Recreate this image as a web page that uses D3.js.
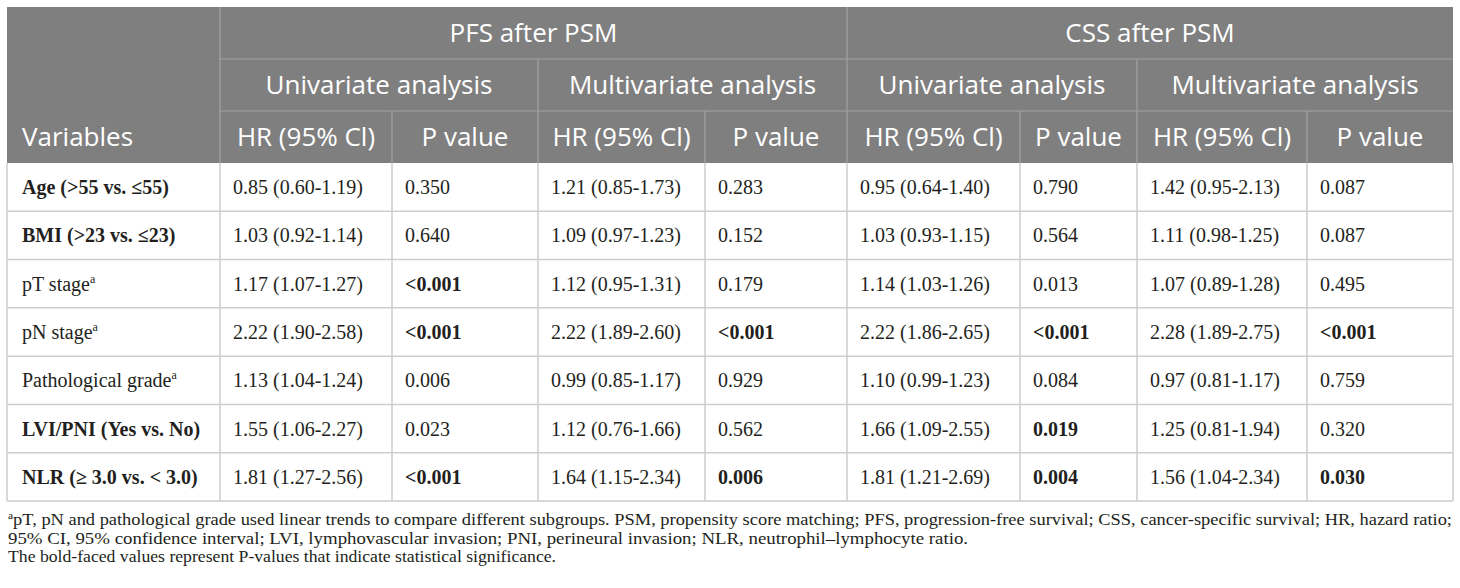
<!DOCTYPE html>
<html>
<head>
<meta charset="utf-8">
<script src="https://cdn.jsdelivr.net/npm/d3@7"></script>
<style>
  html, body { margin: 0; padding: 0; background: #ffffff; }
  svg { display: block; }
</style>
</head>
<body>
<svg id="chart" width="1460" height="588"></svg>
<script>
// ---------- DATA ----------
const variables = ["Age (>55 vs. \u226455)", "BMI (>23 vs. \u226423)", "pT stage", "pN stage", "Pathological grade", "LVI/PNI (Yes vs. No)", "NLR (\u2265 3.0 vs. < 3.0)"];
const variableBold = [true, true, false, false, false, true, true];
const variableSup = ["", "", "a", "a", "a", "", ""];

const pfsUniHR   = ["0.85 (0.60-1.19)", "1.03 (0.92-1.14)", "1.17 (1.07-1.27)", "2.22 (1.90-2.58)", "1.13 (1.04-1.24)", "1.55 (1.06-2.27)", "1.81 (1.27-2.56)"];
const pfsUniP    = ["0.350", "0.640", "<0.001", "<0.001", "0.006", "0.023", "<0.001"];
const pfsUniPBold = [false, false, true, true, false, false, true];
const pfsMultiHR = ["1.21 (0.85-1.73)", "1.09 (0.97-1.23)", "1.12 (0.95-1.31)", "2.22 (1.89-2.60)", "0.99 (0.85-1.17)", "1.12 (0.76-1.66)", "1.64 (1.15-2.34)"];
const pfsMultiP  = ["0.283", "0.152", "0.179", "<0.001", "0.929", "0.562", "0.006"];
const pfsMultiPBold = [false, false, false, true, false, false, true];
const cssUniHR   = ["0.95 (0.64-1.40)", "1.03 (0.93-1.15)", "1.14 (1.03-1.26)", "2.22 (1.86-2.65)", "1.10 (0.99-1.23)", "1.66 (1.09-2.55)", "1.81 (1.21-2.69)"];
const cssUniP    = ["0.790", "0.564", "0.013", "<0.001", "0.084", "0.019", "0.004"];
const cssUniPBold = [false, false, false, true, false, true, true];
const cssMultiHR = ["1.42 (0.95-2.13)", "1.11 (0.98-1.25)", "1.07 (0.89-1.28)", "2.28 (1.89-2.75)", "0.97 (0.81-1.17)", "1.25 (0.81-1.94)", "1.56 (1.04-2.34)"];
const cssMultiP  = ["0.087", "0.087", "0.495", "<0.001", "0.759", "0.320", "0.030"];
const cssMultiPBold = [false, false, false, true, false, false, true];

const groupLabels = ["PFS after PSM", "CSS after PSM"];
const analysisLabels = ["Univariate analysis", "Multivariate analysis", "Univariate analysis", "Multivariate analysis"];
const columnLabels = ["HR (95% Cl)", "P value", "HR (95% Cl)", "P value", "HR (95% Cl)", "P value", "HR (95% Cl)", "P value"];
const firstHeader = "Variables";

const footLines = [
  {sup: "a", text: "pT, pN and pathological grade used linear trends to compare different subgroups. PSM, propensity score matching; PFS, progression-free survival; CSS, cancer-specific survival; HR, hazard ratio;"},
  {sup: "", text: "95% CI, 95% confidence interval; LVI, lymphovascular invasion; PNI, perineural invasion; NLR, neutrophil\u2013lymphocyte ratio."},
  {sup: "", text: "The bold-faced values represent P-values that indicate statistical significance."}
];

// ---------- LAYOUT ----------
const colEdges = [7, 220, 392, 538, 705, 847, 1020, 1137, 1307, 1453];
const headTop = 7, headRowH = 52, bodyTop = 163, bodyBottom = 501;
const headerFill = "#7f7f7f", headerLine = "#a3a3a3", gridLine = "#cdcdcd";
const sansFont = "'Open Sans', 'Noto Sans', sans-serif";
const serifFont = "'Liberation Serif', 'Times New Roman', serif";

const svg = d3.select("#chart");

const colIdx = d3.range(colEdges.length - 1);
const colX0 = d3.scaleOrdinal().domain(colIdx).range(colEdges.slice(0, -1));
const colX1 = d3.scaleOrdinal().domain(colIdx).range(colEdges.slice(1));
const colMid = i => (colX0(i) + colX1(i)) / 2;

const rowY = d3.scaleBand().domain(d3.range(variables.length)).range([bodyTop, bodyBottom]).padding(0);
const headY = d3.scaleBand().domain([0, 1, 2]).range([headTop, headTop + 3 * headRowH]).padding(0);

// ---------- HEADER ----------
const L = colEdges[0], R = colEdges[colEdges.length - 1];
svg.append("rect").attr("x", L).attr("y", headTop).attr("width", R - L).attr("height", 3 * headRowH).attr("fill", headerFill);

const hl = svg.append("g").attr("stroke", headerLine).attr("stroke-width", 1.2);
[1, 2].forEach(r => {
  hl.append("line").attr("x1", colEdges[1]).attr("x2", R).attr("y1", headY(r)).attr("y2", headY(r));
});
const vSpec = [
  {c: 1, from: 0}, {c: 5, from: 0},
  {c: 3, from: 1}, {c: 7, from: 1},
  {c: 2, from: 2}, {c: 4, from: 2}, {c: 6, from: 2}, {c: 8, from: 2}
];
vSpec.forEach(v => {
  hl.append("line").attr("x1", colEdges[v.c]).attr("x2", colEdges[v.c])
    .attr("y1", headY(v.from)).attr("y2", bodyTop);
});

const headText = svg.append("g").attr("fill", "#ffffff").attr("font-family", sansFont).attr("font-size", 26);
groupLabels.forEach((g, i) => {
  const c0 = 1 + i * 4, c1 = c0 + 3;
  headText.append("text").attr("x", (colX0(c0) + colX1(c1)) / 2).attr("y", headY(0) + headRowH / 2 + 9)
    .attr("text-anchor", "middle").text(g);
});
analysisLabels.forEach((a, i) => {
  const c0 = 1 + i * 2, c1 = c0 + 1;
  headText.append("text").attr("x", (colX0(c0) + colX1(c1)) / 2).attr("y", headY(1) + headRowH / 2 + 9)
    .attr("text-anchor", "middle").text(a);
});
columnLabels.forEach((t, i) => {
  headText.append("text").attr("x", colMid(i + 1)).attr("y", headY(2) + headRowH / 2 + 9)
    .attr("text-anchor", "middle").text(t);
});
headText.append("text").attr("x", colX0(0) + 15).attr("y", headY(2) + headRowH / 2 + 9).text(firstHeader);

// ---------- BODY ----------
const grid = svg.append("g").attr("stroke", gridLine).attr("stroke-width", 1.5);
d3.range(1, variables.length + 1).forEach(r => {
  const y = r < variables.length ? rowY(r) : bodyBottom;
  grid.append("line").attr("x1", L).attr("x2", R).attr("y1", y).attr("y2", y);
});
colEdges.forEach(x => {
  grid.append("line").attr("x1", x).attr("x2", x).attr("y1", bodyTop).attr("y2", bodyBottom);
});

const bodyCols = [
  {vals: pfsUniHR}, {vals: pfsUniP, bold: pfsUniPBold},
  {vals: pfsMultiHR}, {vals: pfsMultiP, bold: pfsMultiPBold},
  {vals: cssUniHR}, {vals: cssUniP, bold: cssUniPBold},
  {vals: cssMultiHR}, {vals: cssMultiP, bold: cssMultiPBold}
];

const bodyText = svg.append("g").attr("fill", "#231f20").attr("font-family", serifFont).attr("font-size", 20);
variables.forEach((v, r) => {
  const t = bodyText.append("text").attr("x", colX0(0) + 15).attr("y", rowY(r) + rowY.bandwidth() / 2 + 7)
    .attr("font-weight", variableBold[r] ? "bold" : "normal");
  t.append("tspan").text(v);
  if (variableSup[r]) t.append("tspan").attr("font-size", 12).attr("dy", -8).text(variableSup[r]);
});
bodyCols.forEach((col, ci) => {
  col.vals.forEach((val, r) => {
    bodyText.append("text").attr("x", colX0(ci + 1) + 13).attr("y", rowY(r) + rowY.bandwidth() / 2 + 7)
      .attr("font-weight", col.bold && col.bold[r] ? "bold" : "normal").text(val);
  });
});

// ---------- FOOTNOTE ----------
const footTargets = [1444, 960, 548];
const foot = svg.append("g").attr("fill", "#231f20").attr("font-family", serifFont).attr("font-size", 16);
footLines.forEach((f, i) => {
  const t = foot.append("text").attr("x", 8).attr("y", 525 + i * 18.7);
  if (f.sup) t.append("tspan").attr("font-size", 10).attr("dy", -6).text(f.sup);
  t.append("tspan").attr("dy", f.sup ? 6 : 0).text(f.text);
  t.attr("textLength", footTargets[i]).attr("lengthAdjust", "spacingAndGlyphs");
});
</script>
</body>
</html>
